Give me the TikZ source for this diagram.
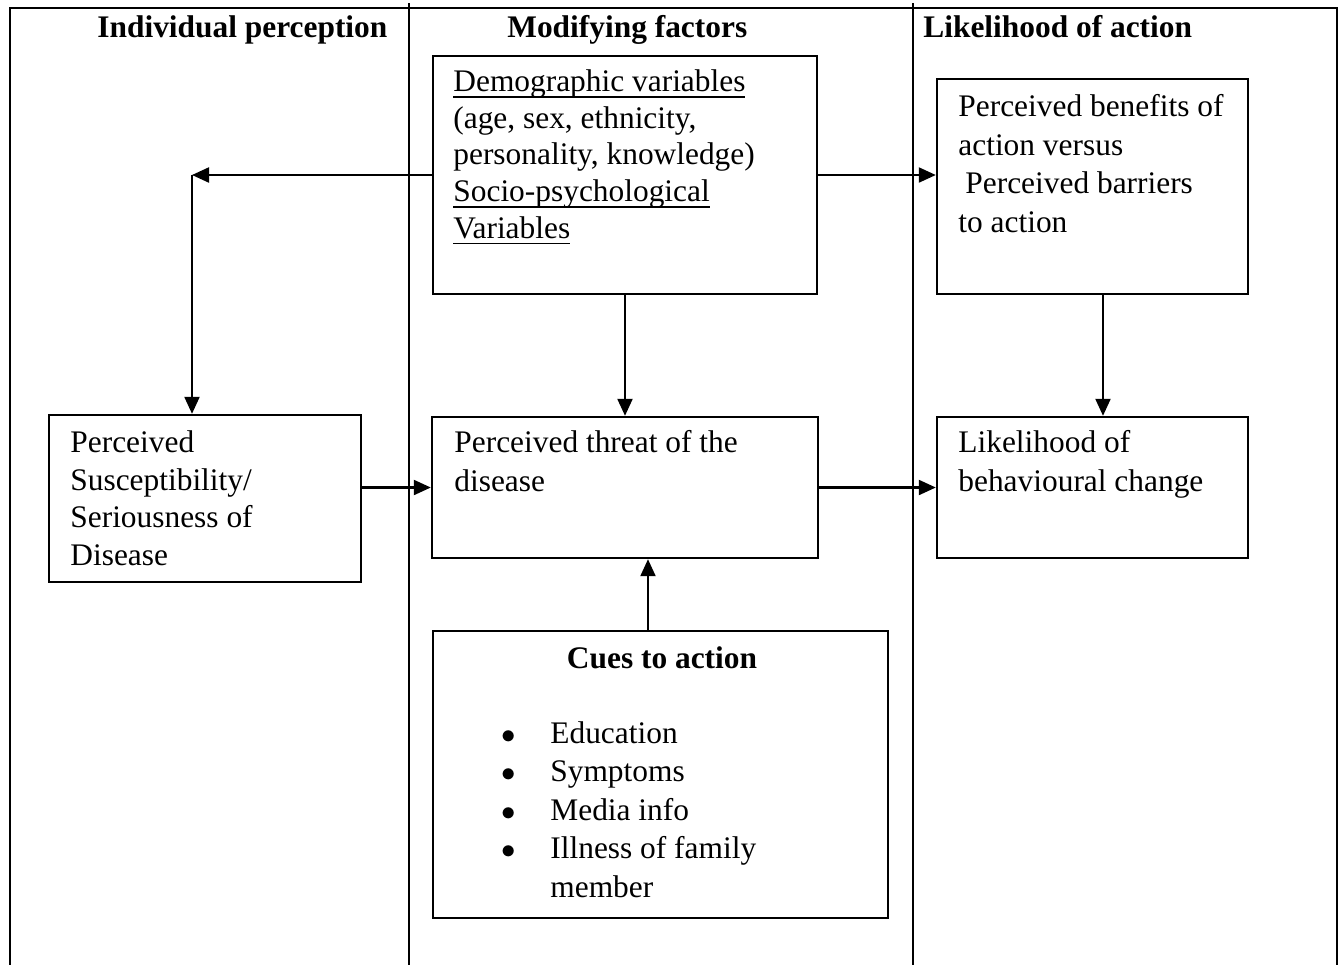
\documentclass[tikz,border=0pt]{standalone}
\usepackage{fontspec}
\setmainfont{Liberation Serif}
\usetikzlibrary{arrows.meta,fit,positioning}
\newcommand{\undl}[1]{\vtop{\hbox{\raisebox{0pt}[\height][0pt]{#1}}\kern2.4pt\hrule height 0.8pt}}
\newcommand{\bul}{\llap{$\bullet$\hspace{17.4pt}}}

\begin{document}
\begin{tikzpicture}[x=0.5pt,y=-0.5pt,
    box/.style={draw,line width=1.2pt,inner sep=0pt},
    txt/.style={anchor=base west,align=left,inner sep=0pt,font=\fontsize{15.7}{19.25}\selectfont},
    head/.style={anchor=base west,inner sep=0pt,font=\fontsize{15.7}{19.25}\selectfont\bfseries},
    arr/.style={-{Triangle[length=8.5pt,width=7.5pt]},line width=1.1pt}]
  \useasboundingbox (0,0) rectangle (1341,965);
  % frame and columns
  \draw[line width=1.2pt] (10,965) -- (10,8) -- (1337,8) -- (1337,965);
  \draw[line width=1pt] (409,3) -- (409,965);
  \draw[line width=1pt] (913,3) -- (913,965);
  \node[head] (hindiv) at (97,37) {Individual perception};
  \node[head] (hmod) at (507,37) {Modifying factors};
  \node[head] (hlike) at (923,37) {Likelihood of action};
  % boxes
  \node[box,fit={(433,56) (817,294)}] (demo) {};
  \node[box,fit={(937,79) (1248,294)}] (bene) {};
  \node[box,fit={(49,415) (361,582)}] (susc) {};
  \node[box,fit={(432,417) (818,558)}] (threat) {};
  \node[box,fit={(937,417) (1248,558)}] (likely) {};
  \node[box,fit={(433,631) (888,918)}] (cues) {};
  % texts (placed at the baseline of their last line)
  \node[txt,font=\fontsize{15.7}{18.3}\selectfont] (demotext) at (453,238)
    {\undl{Demographic variables}\\(age, sex, ethnicity,\\personality, knowledge)\\\undl{Socio-psychological}\\\undl{Variables}};
  \node[txt] (benetext) at (958,232)
    {Perceived benefits of\\action versus\\\hspace{3.5pt}Perceived barriers\\to action};
  \node[txt,font=\fontsize{15.7}{18.7}\selectfont] (susctext) at (70,565)
    {Perceived\\Susceptibility/\\Seriousness of\\Disease};
  \node[txt] (threattext) at (454,491) {Perceived threat of the\\disease};
  \node[txt] (likelytext) at (958,491) {Likelihood of\\behavioural change};
  \node[head,anchor=base] (cueshead) at (662,668) {Cues to action};
  \node[txt] (cueslist) at (550,897)
    {\bul Education\\\bul Symptoms\\\bul Media info\\\bul Illness of family\\member};
  % arrows
  \coordinate (turn) at (192,175);
  \draw[arr] (demo.west) -- (turn);
  \draw[arr] (turn) -- (turn |- susc.north);
  \draw[arr] (demo.east) -- (demo.east -| bene.west);
  \draw[arr] (demo.south) -- (threat.north);
  \draw[arr] ([xshift=5.25pt]bene.south) -- ([xshift=5.25pt]likely.north);
  \draw[arr] (susc.east |- threat.west) -- (threat.west);
  \draw[arr] (threat.east) -- (likely.west);
  \draw[arr] ([xshift=-6.25pt]cues.north) -- ([xshift=-6.25pt]cues.north |- threat.south);
\end{tikzpicture}
\end{document}
